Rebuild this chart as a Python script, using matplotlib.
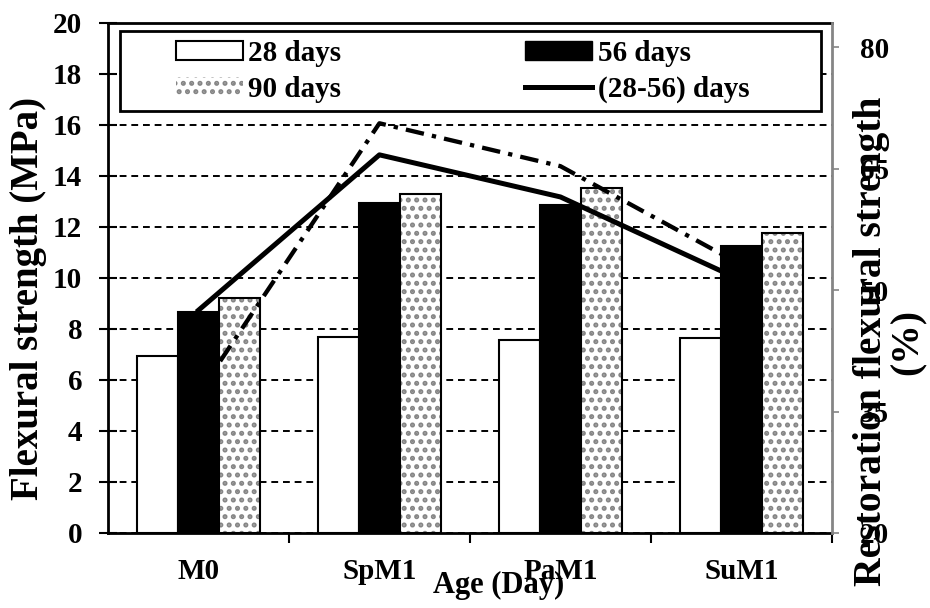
import matplotlib
matplotlib.use("Agg")
import matplotlib.pyplot as plt
from matplotlib.patches import Patch, Rectangle
from matplotlib.lines import Line2D
import numpy as np

# flexural strength (MPa) per mix and curing age
mixes = ["M0", "SpM1", "PaM1", "SuM1"]
days28 = [6.94, 7.70, 7.57, 7.66]
days56 = [8.68, 12.93, 12.84, 11.25]
days90 = [9.20, 13.28, 13.54, 11.75]

# restoration of flexural strength (%)
restore_28_56 = [47.5, 66.7, 61.5, 51.2]
restore_28_90 = [37.2, 70.6, 65.3, 53.1]

left_ticks = [0, 2, 4, 6, 8, 10, 12, 14, 16, 18, 20]
right_ticks = [20, 35, 50, 65, 80]

plt.rcParams['font.family'] = ['Liberation Serif', 'DejaVu Serif']
plt.rcParams['font.weight'] = 'bold'
plt.rcParams['axes.labelweight'] = 'bold'
plt.rcParams['hatch.linewidth'] = 2.4

fig = plt.figure(figsize=(9.3, 6.08), dpi=100)
ax = fig.add_axes([0.116, 0.1234, 0.7786, 0.839])

x = np.arange(len(mixes))
w = 0.227
gray = '#858585'

ax.bar(x - w, days28, w, color='white', edgecolor='black', linewidth=1.5, zorder=2)
ax.bar(x, days56, w, color='black', edgecolor='black', linewidth=1.5, zorder=2)
ax.bar(x + w, days90, w, color='white', edgecolor=gray, hatch='..', linewidth=0, zorder=2)
ax.bar(x + w, days90, w, fill=False, edgecolor='black', linewidth=1.5, zorder=2.1)

ax.set_xlim(-0.5, 3.5)
ax.set_ylim(0, 20)
ax.set_yticks(left_ticks)
ax.tick_params(axis='y', direction='inout', length=13, width=1.5, pad=12, labelsize=21)
ax.yaxis.grid(True, linestyle=(0, (3.5, 2.5)), color='black', linewidth=1.4)
ax.set_axisbelow(True)

# boundaries between groups get the ticks, centres get the names
ax.set_xticks([0.5, 1.5, 2.5, 3.5])
ax.set_xticklabels([])
ax.set_xticks(x, minor=True)
ax.set_xticklabels(mixes, minor=True)
ax.tick_params(axis='x', which='major', direction='out', length=7, width=1.5)
ax.tick_params(axis='x', which='minor', length=0, pad=18, labelsize=21)

ax.spines['left'].set_linewidth(2)
ax.spines['bottom'].set_linewidth(2)
ax.spines['top'].set_linewidth(2)
ax.spines['right'].set_visible(False)

ax.set_ylabel('Flexural strength (MPa)', fontsize=28, va='center')
ax.yaxis.set_label_coords(-0.109, 0.46)
ax.set_xlabel('Age (Day)', fontsize=22, va='center')
ax.xaxis.set_label_coords(0.54, -0.102)

ax2 = ax.twinx()
ax2.plot(x, restore_28_56, color='black', linewidth=3.6, zorder=3)
ax2.plot(x, restore_28_90, color='black', linewidth=3.1, dashes=(4.3, 1.9, 1, 1.9), zorder=3)
ax2.set_ylim(20, 83)
ax2.set_yticks(right_ticks)
ax2.tick_params(axis='y', direction='out', length=5, width=1.2, color=gray, pad=15, labelsize=21)
for side in ['left', 'top', 'bottom']:
    ax2.spines[side].set_visible(False)
ax2.spines['right'].set_color(gray)
ax2.spines['right'].set_linewidth(2)
ax2.set_ylabel('Restoration flexural strength\n(%)', fontsize=28.5, va='center',
               rotation=90, linespacing=1.0, multialignment='center')
ax2.yaxis.set_label_coords(1.08, 0.375)

# legend box
ax2.add_patch(Rectangle((0.0166, 0.827), 0.968, 0.157, transform=ax2.transAxes,
                        facecolor='white', edgecolor='black', linewidth=2, zorder=4))
handles = [
    Patch(facecolor='white', edgecolor='black', linewidth=1.5),
    Patch(facecolor='white', edgecolor=gray, hatch='..', linewidth=0),
    Patch(facecolor='black', edgecolor='black'),
    Line2D([], [], color='black', linewidth=3.6),
]
labels = ['28 days', '90 days', '56 days', '(28-56) days']
leg = ax2.legend(handles, labels, ncol=2, loc='center', bbox_to_anchor=(0.49, 0.905),
                 frameon=False, fontsize=21, handlelength=2.3, handleheight=0.65,
                 handletextpad=0.2, columnspacing=6.3, labelspacing=0.3)
leg.set_zorder(5)

plt.savefig('out.png', dpi=100)
